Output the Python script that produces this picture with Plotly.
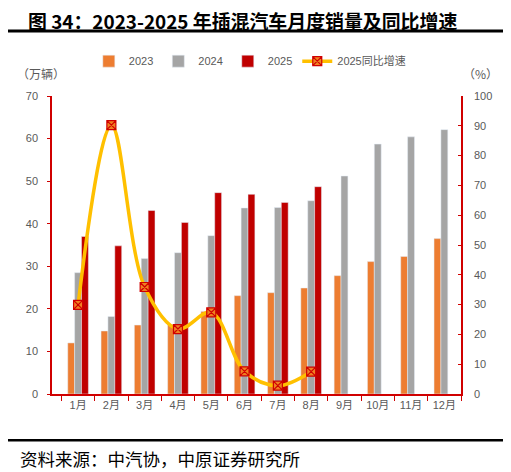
import plotly.graph_objects as go

# Source data (万辆 / %)
months = ["1月", "2月", "3月", "4月", "5月", "6月", "7月", "8月", "9月", "10月", "11月", "12月"]
sales_2023 = [12.0, 14.8, 16.2, 16.3, 19.4, 23.1, 23.8, 24.9, 27.8, 31.1, 32.3, 36.5]
sales_2024 = [28.5, 18.2, 31.8, 33.2, 37.2, 43.7, 43.8, 45.4, 51.2, 58.7, 60.4, 62.1]
sales_2025 = [37.0, 34.8, 43.1, 40.3, 47.3, 46.9, 45.0, 48.7]
yoy_2025 = [29.9, 90.2, 35.9, 21.8, 27.4, 7.6, 2.8, 7.5]

orange = "#ED7D31"
gray = "#A5A5A5"
darkred = "#C00000"
yellow = "#FFC000"
axis_red = "#D00000"
label_gray = "#595959"
font_main = "Liberation Sans, Noto Sans CJK SC"

fig = go.Figure()
fig.add_trace(go.Bar(x=months, y=sales_2023, name="2023", marker_color=orange))
fig.add_trace(go.Bar(x=months, y=sales_2024, name="2024", marker_color=gray))
fig.add_trace(go.Bar(x=months[:len(sales_2025)], y=sales_2025, name="2025",
                     marker_color=darkred))
fig.add_trace(go.Scatter(
    x=months[:len(yoy_2025)], y=yoy_2025, name="2025同比增速", yaxis="y2",
    mode="lines+markers",
    line=dict(color=yellow, width=3.5, shape="spline", smoothing=1.0),
    marker=dict(symbol="square-x", size=9, color="#F08020",
                line=dict(color="#D00000", width=1.2)),
))

# page body has an 8px margin, so the figure is drawn 8px smaller
fig.update_layout(
    width=503,
    height=464,
    margin=dict(l=44, r=50, t=88, b=78, autoexpand=False),
    paper_bgcolor="white",
    plot_bgcolor="white",
    font=dict(family=font_main, size=11, color=label_gray),
    barmode="group",
    bargap=0.38,
    bargroupgap=0,
    showlegend=True,
    legend=dict(
        orientation="h", x=0.09, y=1.117, xanchor="left", yanchor="middle",
        font=dict(size=11, color=label_gray), traceorder="normal",
        itemwidth=30,
    ),
    xaxis=dict(
        type="category", showline=True, linecolor=axis_red, linewidth=1.5,
        ticks="outside", tickson="boundaries", tickcolor=axis_red, ticklen=5,
        showgrid=False, tickangle=0, tickfont=dict(size=11, color=label_gray),
    ),
    yaxis=dict(
        range=[0, 70], dtick=10, showline=True, linecolor=axis_red, linewidth=1.5,
        ticks="outside", tickcolor=axis_red, ticklen=3, showgrid=False,
        ticklabelstandoff=7,
        zeroline=False, tickfont=dict(size=11, color=label_gray),
    ),
    yaxis2=dict(
        range=[0, 100], dtick=10, overlaying="y", side="right",
        showline=True, linecolor=axis_red, linewidth=1.5,
        ticks="inside", tickcolor=axis_red, ticklen=3, showgrid=False,
        ticklabelstandoff=9,
        zeroline=False, tickfont=dict(size=11, color=label_gray),
    ),
)

# title, units and source note
fig.add_annotation(
    text="<b>图 34：2023-2025 年插混汽车月度销量及同比增速</b>",
    xref="paper", yref="paper", x=-0.061, y=1.253, xanchor="left", yanchor="middle",
    align="left", showarrow=False, borderpad=0,
    font=dict(family="Noto Sans CJK SC", size=18.9, color="black"),
)
fig.add_shape(type="line", xref="paper", yref="paper",
              x0=-0.117, x1=1.112, y0=1.218, y1=1.218,
              line=dict(color="black", width=3))
fig.add_annotation(
    text="（万辆）", xref="paper", yref="paper", x=-0.09, y=1.077,
    xanchor="left", yanchor="middle", align="left", showarrow=False,
    font=dict(family="Noto Sans CJK SC", size=12, color=label_gray),
)
fig.add_annotation(
    text="（%）", xref="paper", yref="paper", x=1.0, y=1.077,
    xanchor="left", yanchor="middle", align="left", showarrow=False,
    font=dict(family="Noto Sans CJK SC", size=12, color=label_gray),
)
fig.add_shape(type="line", xref="paper", yref="paper",
              x0=-0.117, x1=1.112, y0=-0.155, y1=-0.155,
              line=dict(color="black", width=2.5))
fig.add_annotation(
    text="资料来源：中汽协，中原证券研究所", xref="paper", yref="paper",
    x=-0.083, y=-0.218, xanchor="left", yanchor="middle", align="left",
    showarrow=False,
    font=dict(family="Noto Sans CJK SC", size=17.5, color="black"),
)

fig.write_html("out.html")
